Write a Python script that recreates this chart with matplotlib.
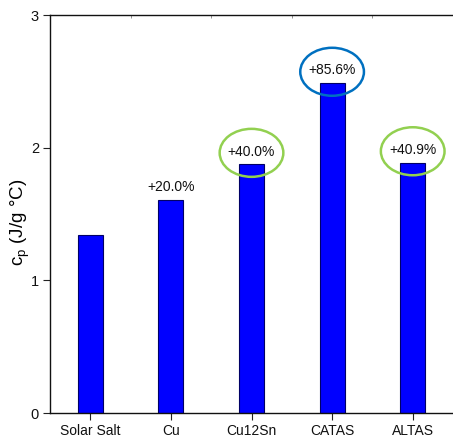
import matplotlib
matplotlib.use("Agg")
import matplotlib.pyplot as plt
from matplotlib.patches import Ellipse
import numpy as np

plt.rcParams['font.family'] = ['Liberation Sans', 'DejaVu Sans']

categories = ["Solar Salt", "Cu", "Cu12Sn", "CATAS", "ALTAS"]
cp_values = [1.34, 1.608, 1.876, 2.487, 1.888]
increase_labels = [None, "+20.0%", "+40.0%", "+85.6%", "+40.9%"]
# highlight ring colour per bar (None = no ring)
ring_colors = [None, None, "#92D050", "#0070C0", "#92D050"]
y_ticks = [0, 1, 2, 3]

W, H = 453, 444
fig = plt.figure(figsize=(W / 100, H / 100), dpi=100)
ax = fig.add_axes([50 / W, 31 / H, 403 / W, 398 / H])

x = np.arange(len(categories))
ax.bar(x, cp_values, width=0.31, color="#0000FF", edgecolor="#000066",
       linewidth=0.8, zorder=2)

ax.set_xlim(-0.5, 4.475)
ax.set_ylim(0, 3)

# per-pixel scale for ring sizes in data coordinates
px_x = 4.975 / 403
px_y = 3 / 398

for xi, val, lab, rc in zip(x, cp_values, increase_labels, ring_colors):
    if lab is None:
        continue
    ty = val + 0.095
    ax.text(xi, ty, lab, ha="center", va="center", fontsize=10, color="#111111",
            zorder=4)
    if rc is not None:
        ax.add_patch(Ellipse((xi, ty - 0.01), 64 * px_x, 48 * px_y, fill=False,
                             edgecolor=rc, linewidth=1.8, zorder=5,
                             clip_on=False))

ax.set_xticks(x)
ax.set_xticklabels(categories, fontsize=10)
ax.set_yticks(y_ticks)
ax.set_yticklabels([str(t) for t in y_ticks], fontsize=10.5)
ax.tick_params(axis="both", direction="out", length=5, width=0.8,
               colors="#222222", labelcolor="#111111", pad=3)

# fine marks along the top edge
ax.set_xticks(np.arange(0, 4.6, 0.5), minor=True)
ax.tick_params(axis="x", which="minor", top=True, bottom=False,
               direction="in", length=2, width=0.5, colors="#666666")

ax.set_ylabel(r"$\mathregular{c_p}$ (J/g °C)", fontsize=13.5)
ax.yaxis.set_label_coords(-0.045, 0.48)

ax.spines["right"].set_visible(False)
for s in ("left", "bottom", "top"):
    ax.spines[s].set_linewidth(1.0)
    ax.spines[s].set_color("#111111")

fig.savefig("out.png", dpi=100)
